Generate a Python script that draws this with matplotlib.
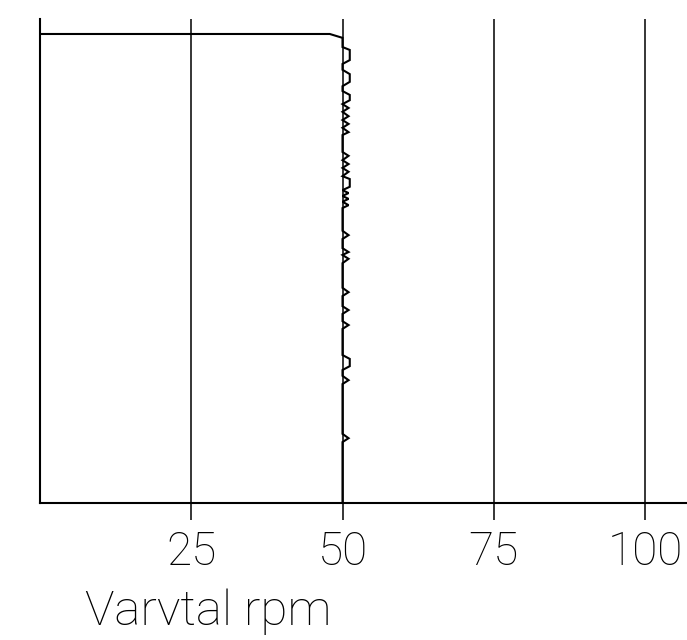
import matplotlib
matplotlib.use("Agg")
import matplotlib.pyplot as plt

# rpm (x) and depth (y, downward)
rpm = [0, 47.9, 50,
       50, 51.2, 51.2, 50,
       50, 51.2, 51.2, 50,
       50, 51.2, 51.2, 50,
       51, 50, 51, 50, 51, 50, 51, 50,
       50, 51, 50, 51, 50, 51, 50,
       51.2, 51.2, 50,
       51, 50, 51, 50, 51, 50,
       50, 51, 50,
       50, 51, 50, 51, 50,
       50, 51, 50,
       50, 51, 50,
       50, 51, 50,
       50, 51.2, 51.2, 50,
       50, 51, 50,
       50, 51, 50,
       50]
depth = [0.31, 0.31, 0.39,
         0.58, 0.64, 0.85, 0.93,
         1.05, 1.14, 1.30, 1.39,
         1.49, 1.57, 1.68, 1.76,
         1.84, 1.92, 2.01, 2.09, 2.17, 2.25, 2.34, 2.40,
         2.75, 2.83, 2.92, 3.00, 3.08, 3.16, 3.25,
         3.31, 3.47, 3.54,
         3.60, 3.66, 3.72, 3.78, 3.85, 3.91,
         4.38, 4.47, 4.55,
         4.74, 4.82, 4.88, 4.96, 5.05,
         5.56, 5.65, 5.73,
         5.94, 6.02, 6.10,
         6.25, 6.33, 6.41,
         6.95, 7.03, 7.18, 7.26,
         7.38, 7.47, 7.55,
         8.58, 8.67, 8.75,
         10.0]

xticks = [25, 50, 75, 100]
xtick_labels = ["25", "50", "75", "100"]
xlabel = "Varvtal rpm"

FONT = ['Roboto', 'DejaVu Sans']

fig = plt.figure(figsize=(6.87, 6.40), dpi=100)
ax = fig.add_axes([40/687, 1 - 502.5/640, 647/687, (502.5 - 19)/640])

ax.plot(rpm, depth, color='black', lw=1.5, solid_joinstyle='miter', zorder=3)

ax.set_xlim(0, 647/6.05)
ax.set_ylim(10, 0)

for s in ['top', 'right']:
    ax.spines[s].set_visible(False)
for s in ['left', 'bottom']:
    ax.spines[s].set_linewidth(1.5)
    ax.spines[s].set_color('black')

ax.set_xticks(xticks)
ax.set_xticklabels(xtick_labels, fontfamily=FONT, fontsize=33, fontweight='light')
ax.tick_params(axis='x', direction='out', length=12, width=1.1, pad=8, color='black')
ax.set_yticks([])
ax.grid(axis='x', color='black', lw=1.1)
ax.set_axisbelow(True)

fig.text(85/687, 1 - 625/640, xlabel, fontfamily=FONT, fontsize=35.5,
         fontweight='light', ha='left', va='baseline')

fig.savefig("out.png", dpi=100)
